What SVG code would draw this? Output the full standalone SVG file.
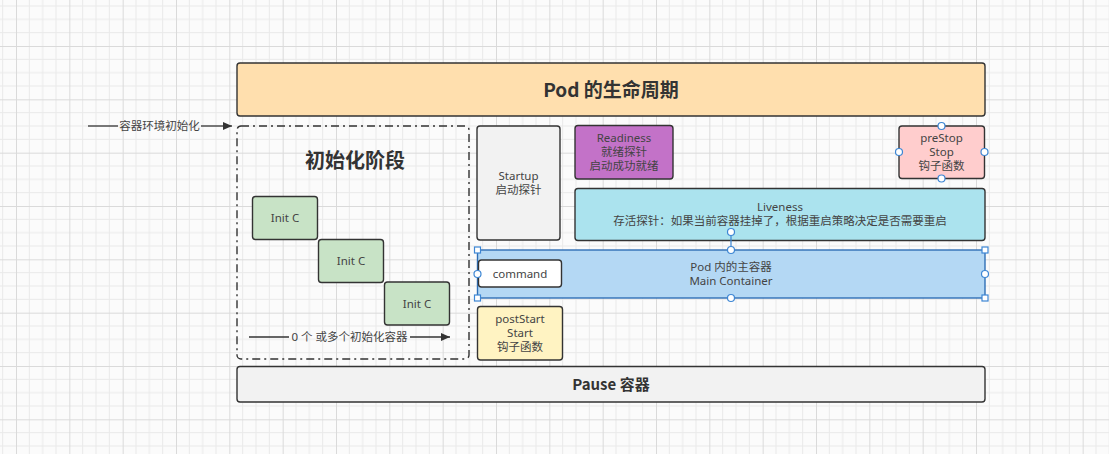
<svg xmlns="http://www.w3.org/2000/svg" width="1109" height="454" viewBox="0 0 1109 454">
<defs>
<pattern id="grid" patternUnits="userSpaceOnUse" x="16" y="-7.333" width="53.333" height="53.333">
<path d="M13.333 0V53.333M26.667 0V53.333M40 0V53.333M0 13.333H53.333M0 26.667H53.333M0 40H53.333" stroke="#e9e9e9" stroke-width="1" fill="none"/>
<path d="M0.5 0V53.333M0 0.5H53.333" stroke="#dadada" stroke-width="1" fill="none"/>
</pattern>
<marker id="arr" markerWidth="10" markerHeight="10" refX="9" refY="5" orient="auto" markerUnits="userSpaceOnUse">
<path d="M0 1 L9 5 L0 9 Z" fill="#333"/>
</marker>
<style>
.box{stroke:#333;stroke-width:1.4}
.t{font-family:"Noto Sans","Noto Sans CJK SC",sans-serif;fill:#444;font-size:11.5px;text-anchor:middle}
.h{font-family:"Noto Sans CJK SC","Noto Sans",sans-serif;fill:#333;font-weight:bold;text-anchor:middle}
.ln{stroke:#333;stroke-width:1.3;fill:none}
.sel{fill:#fff;stroke:#3d86d4;stroke-width:1.2}
</style>
</defs>
<rect width="1109" height="454" fill="#fbfbfb"/>
<rect width="1109" height="454" fill="url(#grid)"/>

<g id="pod-lifecycle">
<rect class="box" x="237" y="63" width="748" height="53" rx="3" fill="#ffdfae"/>
<text class="h" x="611" y="97" font-size="19">Pod 的生命周期</text>
</g>

<g id="init-stage">
<rect x="237" y="126" width="232" height="233" rx="4" fill="none" stroke="#333" stroke-width="1.4" stroke-dasharray="8 4 2 4"/>
<text class="h" x="355" y="168" font-size="20">初始化阶段</text>
</g>

<g id="init-c-1">
<rect class="box" x="252.5" y="196.5" width="65" height="43" rx="3" fill="#c8e3c6"/>
<text class="t" x="285" y="222">Init C</text>
</g>
<g id="init-c-2">
<rect class="box" x="318.5" y="239.5" width="65" height="43" rx="3" fill="#c8e3c6"/>
<text class="t" x="351" y="265">Init C</text>
</g>
<g id="init-c-3">
<rect class="box" x="384.5" y="282" width="65" height="43" rx="3" fill="#c8e3c6"/>
<text class="t" x="417" y="308">Init C</text>
</g>

<g id="startup">
<rect class="box" x="477" y="126" width="83" height="114" rx="3" fill="#f2f2f2"/>
<text class="t" x="518.5" y="180">Startup</text>
<text class="t" x="518.5" y="194">启动探针</text>
</g>

<g id="readiness">
<rect class="box" x="575" y="125.5" width="98" height="53.5" rx="3" fill="#c372c8"/>
<text class="t" x="624" y="142">Readiness</text>
<text class="t" x="624" y="156">就绪探针</text>
<text class="t" x="624" y="170">启动成功就绪</text>
</g>

<g id="prestop">
<rect class="box" x="899" y="126" width="85.5" height="52.5" rx="3" fill="#ffcdcd"/>
<text class="t" x="941.5" y="142">preStop</text>
<text class="t" x="941.5" y="156">Stop</text>
<text class="t" x="941.5" y="170">钩子函数</text>
</g>

<g id="liveness">
<rect class="box" x="575" y="188.5" width="410" height="52" rx="3" fill="#abe3ee"/>
<text class="t" x="780" y="211">Liveness</text>
<text class="t" x="780" y="225" font-size="12.5">存活探针：如果当前容器挂掉了，根据重启策略决定是否需要重启</text>
</g>

<g id="main-container">
<rect x="477.5" y="250" width="507.5" height="48" fill="#b4d8f4" stroke="#2f6fb6" stroke-width="1.4"/>
<text class="t" x="731" y="271">Pod 内的主容器</text>
<text class="t" x="731" y="285">Main Container</text>
</g>

<g id="command">
<rect class="box" x="478.5" y="260" width="83" height="27" rx="3" fill="#ffffff"/>
<text class="t" x="520" y="277.5">command</text>
</g>

<g id="poststart">
<rect class="box" x="477.5" y="306.5" width="85" height="53.5" rx="3" fill="#fff3c2"/>
<text class="t" x="520" y="323">postStart</text>
<text class="t" x="520" y="337">Start</text>
<text class="t" x="520" y="351">钩子函数</text>
</g>

<g id="pause">
<rect class="box" x="237" y="366.5" width="748" height="35.5" rx="3" fill="#f2f2f2"/>
<text class="h" x="611" y="390" font-size="15">Pause 容器</text>
</g>

<g id="connectors">
<path class="ln" d="M88 126H118"/>
<path class="ln" d="M201 126H232" marker-end="url(#arr)"/>
<text class="t" x="159.5" y="130">容器环境初始化</text>
<path class="ln" d="M249 337H289"/>
<path class="ln" d="M410 337H450" marker-end="url(#arr)"/>
<text class="t" x="349.5" y="341">0 个 或多个初始化容器</text>
</g>

<g id="selection-handles">
<path d="M731 232V250" stroke="#3d86d4" stroke-width="1.2"/>
<circle class="sel" cx="731" cy="232" r="3.5"/>
<rect class="sel" x="474.5" y="247" width="6" height="6"/>
<rect class="sel" x="982" y="247" width="6" height="6"/>
<rect class="sel" x="474.5" y="295" width="6" height="6"/>
<rect class="sel" x="982" y="295" width="6" height="6"/>
<circle class="sel" cx="731" cy="250" r="3.5"/>
<circle class="sel" cx="731" cy="298" r="3.5"/>
<circle class="sel" cx="477.5" cy="274" r="3.5"/>
<circle class="sel" cx="985" cy="274" r="3.5"/>
<circle class="sel" cx="941.5" cy="126" r="3.5"/>
<circle class="sel" cx="899" cy="152" r="3.5"/>
<circle class="sel" cx="984.5" cy="152" r="3.5"/>
<circle class="sel" cx="941.5" cy="178.5" r="3.5"/>
</g>
</svg>
